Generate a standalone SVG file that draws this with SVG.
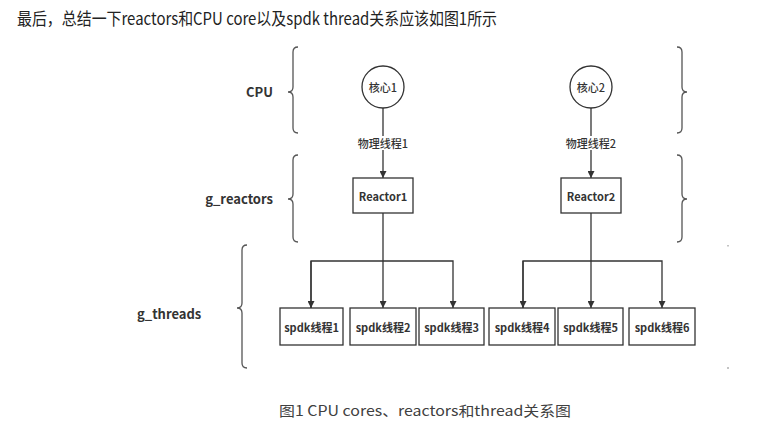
<svg xmlns="http://www.w3.org/2000/svg" width="771" height="437" viewBox="0 0 771 437">
<defs>
<marker id="arr" viewBox="0 0 10 10" refX="10" refY="5" markerWidth="7" markerHeight="7" markerUnits="userSpaceOnUse" orient="auto">
<path d="M0,0 L10,5 L0,10 z" fill="#333"/>
</marker>
<style>
.t{font-family:"Noto Sans CJK SC","Liberation Sans",sans-serif;}
.lbl{font-family:"Noto Sans CJK SC","Liberation Sans",sans-serif;font-size:13px;font-weight:bold;fill:#333;}
.nt{font-family:"Noto Sans CJK SC","Liberation Sans",sans-serif;font-size:11px;font-weight:bold;fill:#333;text-anchor:middle;dominant-baseline:central;}
.nn{font-family:"Noto Sans CJK SC","Liberation Sans",sans-serif;font-size:11px;font-weight:500;fill:#333;text-anchor:middle;dominant-baseline:central;}
.box{fill:#fff;stroke:#333;stroke-width:1.3;}
.br{fill:none;stroke:#555;stroke-width:1.3;}
.ln{fill:none;stroke:#333;stroke-width:1.3;}
</style>
</defs>
<rect width="771" height="437" fill="#fff"/>
<text class="t" x="17" y="25" font-size="17" fill="#222" textLength="480" lengthAdjust="spacingAndGlyphs">最后，总结一下reactors和CPU core以及spdk thread关系应该如图1所示</text>

<g id="labels">
<text class="lbl" x="273" y="97" text-anchor="end">CPU</text>
<text class="lbl" x="273" y="204" text-anchor="end">g_reactors</text>
<text class="lbl" x="137" y="319">g_threads</text>
</g>

<g id="braces">
<path class="br" d="M298,47 Q293,47 293,52 L293,87 Q293,92 288,92 Q293,92 293,97 L293,128 Q293,133 298,133"/>
<path class="br" d="M677,47 Q682,47 682,52 L682,87 Q682,92 687,92 Q682,92 682,97 L682,128 Q682,133 677,133"/>
<path class="br" d="M298,155 Q293,155 293,160 L293,194 Q293,199 288,199 Q293,199 293,204 L293,237 Q293,242 298,242"/>
<path class="br" d="M677,155 Q682,155 682,160 L682,194 Q682,199 687,199 Q682,199 682,204 L682,237 Q682,242 677,242"/>
<path class="br" d="M247,245 Q242,245 242,250 L242,303 Q242,308 237,308 Q242,308 242,313 L242,363 Q242,368 247,368"/>
<line x1="728" y1="245" x2="728" y2="246.5" stroke="#888" stroke-width="1"/>
<line x1="728" y1="367" x2="728" y2="369" stroke="#888" stroke-width="1"/>
</g>

<g id="connectors">
<line class="ln" x1="383" y1="108" x2="383" y2="178" marker-end="url(#arr)"/>
<line class="ln" x1="591" y1="108" x2="591" y2="178" marker-end="url(#arr)"/>
<rect x="358" y="136" width="50" height="14" fill="#fff"/>
<rect x="566" y="136" width="50" height="14" fill="#fff"/>
<text class="nn" x="383" y="143">物理线程1</text>
<text class="nn" x="591" y="143">物理线程2</text>
<line class="ln" x1="383" y1="213" x2="383" y2="308" marker-end="url(#arr)"/>
<polyline class="ln" points="311,308 311,261 453,261 453,308" marker-end="url(#arr)"/>
<line class="ln" x1="311" y1="261" x2="311" y2="308" marker-end="url(#arr)"/>
<line class="ln" x1="591" y1="213" x2="591" y2="308" marker-end="url(#arr)"/>
<polyline class="ln" points="523,308 523,261 662,261 662,308" marker-end="url(#arr)"/>
<line class="ln" x1="523" y1="261" x2="523" y2="308" marker-end="url(#arr)"/>
</g>

<g id="core1"><circle cx="383" cy="87" r="21" class="box"/><text class="nn" x="383" y="87">核心1</text></g>
<g id="core2"><circle cx="591" cy="87" r="21" class="box"/><text class="nn" x="591" y="87">核心2</text></g>

<g id="reactor1"><rect class="box" x="353" y="178" width="60" height="35"/><text class="nt" x="383" y="195.5">Reactor1</text></g>
<g id="reactor2"><rect class="box" x="561" y="178" width="60" height="35"/><text class="nt" x="591" y="195.5">Reactor2</text></g>

<g id="thread1"><rect class="box" x="280" y="308" width="63" height="37"/><text class="nt" x="311.5" y="326.5">spdk线程1</text></g>
<g id="thread2"><rect class="box" x="350" y="308" width="66" height="37"/><text class="nt" x="383" y="326.5">spdk线程2</text></g>
<g id="thread3"><rect class="box" x="419" y="308" width="65" height="37"/><text class="nt" x="451.5" y="326.5">spdk线程3</text></g>
<g id="thread4"><rect class="box" x="489" y="308" width="66" height="37"/><text class="nt" x="522" y="326.5">spdk线程4</text></g>
<g id="thread5"><rect class="box" x="558" y="308" width="65" height="37"/><text class="nt" x="590.5" y="326.5">spdk线程5</text></g>
<g id="thread6"><rect class="box" x="629" y="308" width="66" height="37"/><text class="nt" x="662" y="326.5">spdk线程6</text></g>

<text class="t" x="279" y="416" font-size="14" fill="#404040" textLength="292" lengthAdjust="spacingAndGlyphs">图1 CPU cores、reactors和thread关系图</text>
</svg>
